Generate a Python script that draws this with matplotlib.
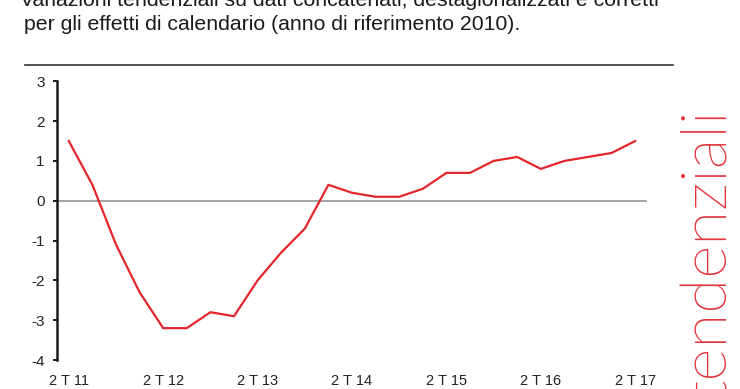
import matplotlib
matplotlib.use("Agg")
import matplotlib.pyplot as plt
import numpy as np

plt.rcParams['font.family'] = ['Liberation Sans', 'DejaVu Sans']

quarters = ["2T11", "3T11", "4T11", "1T12", "2T12", "3T12", "4T12", "1T13",
            "2T13", "3T13", "4T13", "1T14", "2T14", "3T14", "4T14", "1T15",
            "2T15", "3T15", "4T15", "1T16", "2T16", "3T16", "4T16", "1T17", "2T17"]
values = [1.5, 0.4, -1.1, -2.3, -3.2, -3.2, -2.8, -2.9,
          -2.0, -1.3, -0.7, 0.4, 0.2, 0.1, 0.1, 0.3,
          0.7, 0.7, 1.0, 1.1, 0.8, 1.0, 1.1, 1.2, 1.5]
tick_labels = ["2 T 11", "2 T 12", "2 T 13", "2 T 14", "2 T 15", "2 T 16", "2 T 17"]
y_ticks = [3, 2, 1, 0, -1, -2, -3, -4]

W, H = 740, 389
fig = plt.figure(figsize=(W / 100, H / 100), dpi=100)
fig.patch.set_facecolor('white')

ax = fig.add_axes([57 / W, 1 - 360 / H, (647 - 57) / W, (360 - 81.3) / H])
x = np.arange(len(values))
ax.plot(x, values, color='#e3262b', lw=1.6, zorder=3)
ax.axhline(0, color='#8a8a8a', lw=1.1, zorder=2)

ax.set_xlim(-0.5, len(values) - 0.5)
ax.set_ylim(-4, 3)
ax.set_yticks(y_ticks)
ax.set_yticklabels([str(v) for v in y_ticks])
ax.set_xticks(x[::4])
ax.set_xticklabels(tick_labels)

for s in ['top', 'right', 'bottom']:
    ax.spines[s].set_visible(False)
ax.spines['left'].set_linewidth(1.8)
ax.spines['left'].set_color('#1a1a1a')
ax.tick_params(axis='y', direction='out', length=3, width=1.4, color='#1a1a1a',
               labelsize=11, labelcolor='#222222', pad=6)
ax.tick_params(axis='x', length=0, labelsize=10.5, labelcolor='#222222', pad=10)

# Header text
fig.text(20 / W, 1 - 1 / H,
         "Variazioni tendenziali su dati concatenati, destagionalizzati e corretti",
         fontsize=15.3, color='#1a1a1a', ha='left', va='center')
fig.text(24 / W, 1 - 25 / H,
         "per gli effetti di calendario (anno di riferimento 2010).",
         fontsize=15.3, color='#1a1a1a', ha='left', va='center')
fig.add_artist(plt.Line2D([25 / W, 673 / W], [1 - 65 / H, 1 - 65 / H],
                          color='#333333', lw=1.2))

# Decorative rotated word
fig.text(708 / W, 1 - 108 / H, "tendenziali", rotation=90, fontsize=46,
         family=['Lato', 'DejaVu Sans'], fontweight=275,
         color='#e0343a', ha='center', va='top')

fig.savefig("out.png", dpi=100)
